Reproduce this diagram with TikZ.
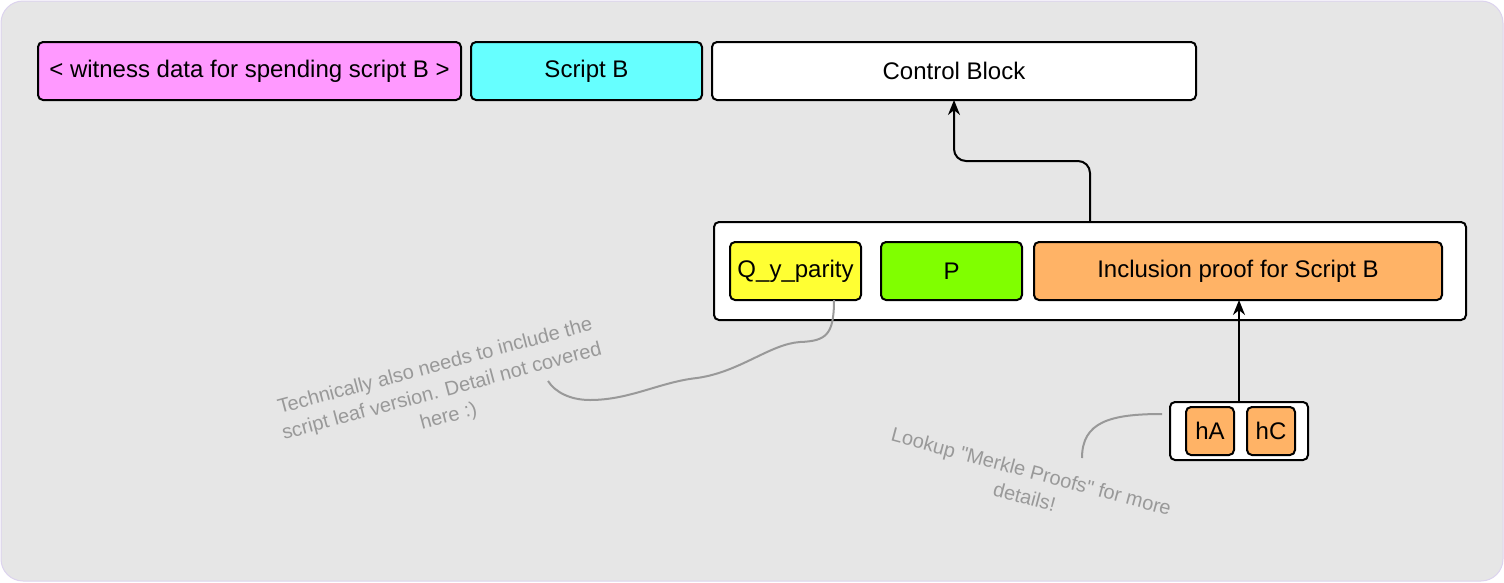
\documentclass[tikz,border=0pt]{standalone}
\usepackage{fontspec}
\setmainfont{Liberation Sans}[Ligatures=TeXOff]
\usetikzlibrary{arrows.meta}
\usetikzlibrary{positioning}

\definecolor{bgfill}{HTML}{E6E6E6}
\definecolor{bgline}{HTML}{DCD3EE}
\definecolor{pinkfill}{HTML}{FF99FF}
\definecolor{cyanfill}{HTML}{66FFFF}
\definecolor{yellowfill}{HTML}{FFFF33}
\definecolor{greenfill}{HTML}{80FF00}
\definecolor{orangefill}{HTML}{FFB366}
\definecolor{notegrey}{HTML}{999999}

\begin{document}
\begin{tikzpicture}[x=1pt,y=-1pt,
        box/.style={draw,line width=2pt,rounded corners=5pt,inner sep=0pt,outer sep=0pt,
            minimum height=58pt,font=\fontsize{24}{29}\selectfont},
        note/.style={text=notegrey,align=center,font=\fontsize{20}{26}\selectfont},
        noteline/.style={draw=notegrey,line width=2pt},
        arr/.style={line width=2pt,-{Stealth[length=15pt,width=12pt]}}]
        \useasboundingbox (0,0) rectangle (1504,582);
        \draw [draw=bgline,fill=bgfill,line width=1pt,rounded corners=22pt] (1,1) rectangle (1503,581);

        % top row
        \node [box,fill=pinkfill,minimum width=423pt] (wit) at (249.5,71) {< witness data for spending script B >};
        \node [box,fill=cyanfill,minimum width=231pt] (scr) [right=10pt of wit] {Script B};
        \node [box,fill=white,minimum width=484pt] (ctl) [right=10pt of scr] {Control Block};

        % control block contents
        \node [box,fill=white,minimum width=752pt,minimum height=98pt] (ctr) at (1090,271) {};
        \node [box,fill=yellowfill,minimum width=131pt] (qy) at (795.5,271) {Q\_y\_parity};
        \node [box,fill=greenfill,minimum width=141pt] (p) [right=20pt of qy] {P};
        \node [box,fill=orangefill,minimum width=408pt] (incl) [right=12pt of p] {Inclusion proof for Script B};

        % merkle path
        \node [box,fill=white,minimum width=138pt] (hbox) at (1239,431) {};
        \node [box,fill=orangefill,minimum width=48pt,minimum height=48pt] (ha) at (1210,431) {hA};
        \node [box,fill=orangefill,minimum width=48pt,minimum height=48pt] (hc) [right=13pt of ha] {hC};

        \draw [arr,rounded corners=12pt] (ctr.north) -- ++(0,-61) -| (ctl.south);
        \draw [arr] (hbox.north) -- (hbox.north |- incl.south);

        % notes
        \node [note,rotate=15] (note1) at (442,392) {Technically also needs to include the\\script leaf version. Detail not covered\\here :)};
        \node [note,rotate=-15] (note2) at (1028,484) {Lookup "Merkle Proofs" for more\\details!};

        \coordinate (qyfoot) at ([xshift=-27pt]qy.south east);
        \coordinate (note1end) at (548,381);
        \coordinate (hfoot) at (1162,414);
        \coordinate (note2end) at (1082,458);
        \draw [noteline] (qyfoot) .. controls (834,335) and (826,341) .. (800,342)
            .. controls (770,344) and (740,372) .. (697,378)
            .. controls (660,382) and (630,400) .. (590,400)
            .. controls (570,400) and (555,392) .. (note1end);
        \draw [noteline] (hfoot) .. controls (1110,414) and (1082,422) .. (note2end);
\end{tikzpicture}
\end{document}
